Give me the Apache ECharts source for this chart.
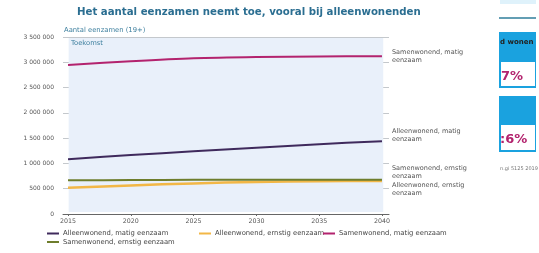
<!DOCTYPE html>
<html>
<head>
<meta charset="utf-8">
<script src="https://cdn.jsdelivr.net/npm/echarts@6/dist/echarts.min.js"></script>
<style>
  html, body { margin: 0; padding: 0; background: #fff; }
  #chart { width: 539px; height: 253px; }
</style>
</head>
<body>
<div id="chart"></div>
<script>
// jaren en waarden
var years = [2015, 2020, 2025, 2030, 2035, 2040]
var alleenMatig   = [1085000, 1165000, 1240000, 1310000, 1380000, 1440000]
var alleenErnstig = [520000, 565000, 605000, 635000, 650000, 655000]
var samenMatig    = [2945000, 3020000, 3080000, 3105000, 3115000, 3120000]
var samenErnstig  = [665000, 670000, 675000, 675000, 675000, 675000]
var yTicks = [0, 500000, 1000000, 1500000, 2000000, 2500000, 3000000, 3500000]

var font = 'DejaVu Sans'
var grey = '#555'

function pairs(arr){
  var out = []
  for(var i in years){ out.push([years[i], arr[i]]) }
  return out
}

function fmt(v){ // 3500000 -> "3 500 000"
  return String(v).replace(/\B(?=(\d{3})+(?!\d))/g, ' ')
}

function lineSeries(name, arr, color, width, label, dy){
  return {
    name: name, type: 'line', data: pairs(arr), smooth: 0.3,
    symbol: 'none', lineStyle: { color: color, width: width },
    itemStyle: { color: color }, z: 3,
    endLabel: {
      show: true, formatter: label, distance: 10, offset: [0, dy],
      fontFamily: font, fontSize: 6.5, color: grey, lineHeight: 8, align: 'left'
    }
  }
}

// legenda: losse items op vaste plekken
function legendItem(name, left, top){
  return {
    data: [name], left: left, top: top, icon: 'rect', itemWidth: 12, itemHeight: 2,
    itemGap: 4, padding: 0, selectedMode: false,
    textStyle: { fontFamily: font, fontSize: 6.8, color: '#444', padding: [0, 0, 0, -1] }
  }
}

var chart = echarts.init(document.getElementById('chart'))
chart.setOption({
  animation: false,
  title: {
    text: 'Het aantal eenzamen neemt toe, vooral bij alleenwonenden',
    left: 77, top: 7, padding: 0,
    textStyle: { fontFamily: font, fontSize: 10.2, fontWeight: 'bold', color: '#2b6e91' }
  },
  grid: { left: 63, right: 150, top: 37, bottom: 39 },
  xAxis: {
    type: 'value', min: 2014.6, max: 2040.56,
    splitLine: { show: false },
    axisLine: { show: true, lineStyle: { color: '#666', width: 1 } },
    axisTick: { show: true, customValues: years, length: 2, lineStyle: { color: '#666' } },
    axisLabel: {
      customValues: years, fontFamily: font, fontSize: 6.3, color: grey, margin: 4,
      formatter: function(v){ return String(v) }
    }
  },
  yAxis: {
    type: 'value', min: 0, max: 3500000, interval: 500000,
    name: 'Aantal eenzamen (19+)', nameLocation: 'end', nameGap: 3,
    nameTextStyle: { fontFamily: font, fontSize: 6.8, color: '#3d7f9e', align: 'left', padding: [0, 0, 0, 1] },
    axisLine: { show: false }, axisTick: { show: false },
    axisLabel: { fontFamily: font, fontSize: 6, color: grey, margin: 9, formatter: fmt },
    splitLine: { lineStyle: { color: '#c4c8cc', width: 1 } }
  },
  legend: [
    legendItem('Alleenwonend, matig eenzaam', 47, 230),
    legendItem('Alleenwonend, ernstig eenzaam', 199, 230),
    legendItem('Samenwonend, matig eenzaam', 323, 230),
    legendItem('Samenwonend, ernstig eenzaam', 47, 238.5)
  ],
  series: [
    {
      type: 'line', data: [], silent: true,
      markArea: {
        silent: true,
        itemStyle: { color: '#e9f0fa' },
        label: { show: false },
        data: [[{ coord: [2015.05, 3480000] }, { coord: [2040.1, 40000] }]]
      },
      z: 1
    },
    lineSeries('Alleenwonend, matig eenzaam', alleenMatig, '#3f2a5c', 2, 'Alleenwonend, matig\neenzaam', -6),
    lineSeries('Alleenwonend, ernstig eenzaam', alleenErnstig, '#f2b746', 2.5, 'Alleenwonend, ernstig\neenzaam', 8),
    lineSeries('Samenwonend, matig eenzaam', samenMatig, '#b3236e', 2, 'Samenwonend, matig\neenzaam', 0),
    lineSeries('Samenwonend, ernstig eenzaam', samenErnstig, '#6e7d2c', 2, 'Samenwonend, ernstig\neenzaam', -8)
  ],
  graphic: [
    { type: 'text', z: 10, style: { x: 71, y: 43, text: 'Toekomst', fontFamily: font, fontSize: 6.8, fill: '#3d7f9e', verticalAlign: 'middle' } },
    // afgesneden zijbalk rechts
    { type: 'rect', shape: { x: 500, y: 0, width: 36, height: 4 }, style: { fill: '#dff2fb' } },
    { type: 'line', shape: { x1: 499, y1: 18, x2: 536, y2: 18 }, style: { stroke: '#2f7e9b', lineWidth: 1.5 } },
    { type: 'rect', shape: { x: 499, y: 32, width: 37, height: 56 }, style: { fill: '#1aa2df' } },
    { type: 'rect', shape: { x: 501, y: 62, width: 34, height: 24 }, style: { fill: '#fff' } },
    { type: 'text', style: { x: 500, y: 42, text: 'd wonen', fontFamily: font, fontSize: 7, fontWeight: 'bold', fill: '#222', verticalAlign: 'middle' } },
    { type: 'text', style: { x: 501, y: 77, text: '7%', fontFamily: font, fontSize: 13, fontWeight: 'bold', fill: '#b3236e', verticalAlign: 'middle' } },
    { type: 'rect', shape: { x: 499, y: 96, width: 37, height: 56 }, style: { fill: '#1aa2df' } },
    { type: 'rect', shape: { x: 501, y: 125, width: 34, height: 25 }, style: { fill: '#fff' } },
    { type: 'text', style: { x: 500, y: 140, text: ':6%', fontFamily: font, fontSize: 13, fontWeight: 'bold', fill: '#b3236e', verticalAlign: 'middle' } },
    { type: 'text', style: { x: 500, y: 169, text: 'n.gi 5125 2019', fontFamily: font, fontSize: 5, fill: '#777', verticalAlign: 'middle' } }
  ]
})
</script>
</body>
</html>
